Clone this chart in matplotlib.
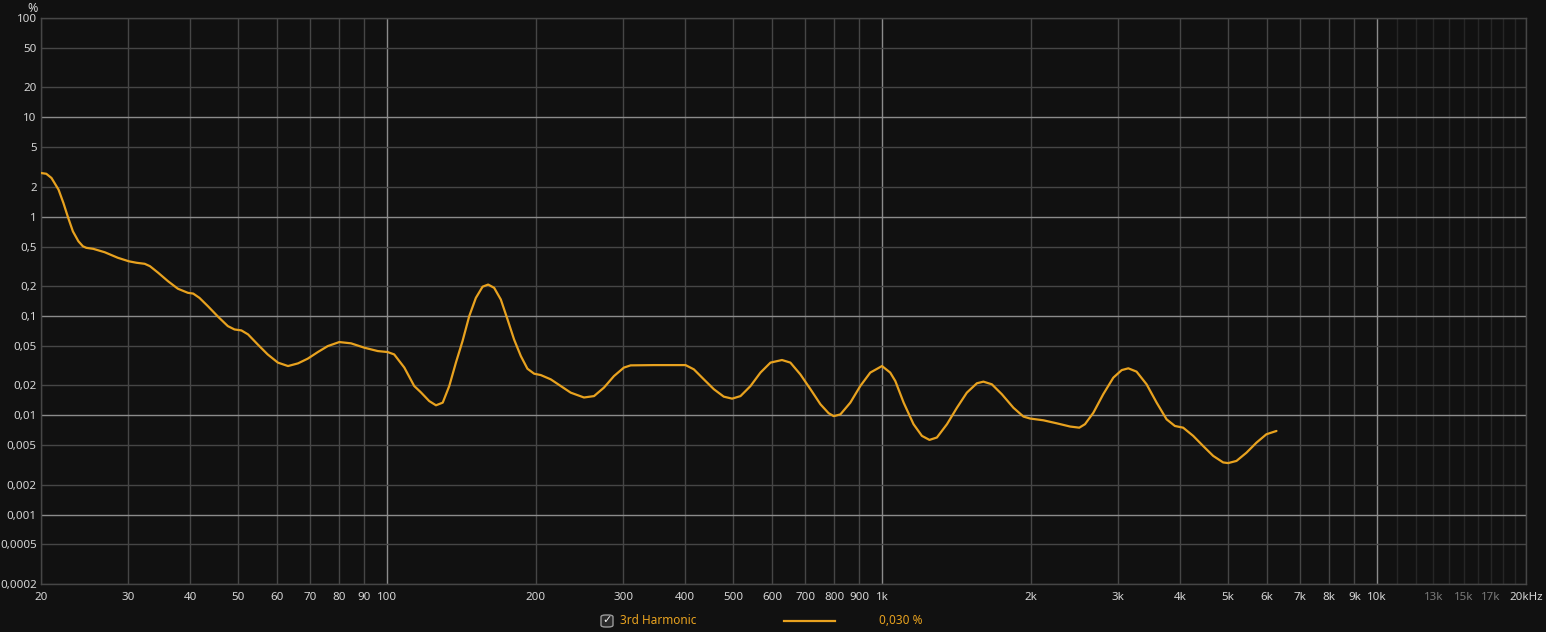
import matplotlib
matplotlib.use("Agg")
import matplotlib.pyplot as plt
from matplotlib.patches import FancyBboxPatch
from matplotlib.lines import Line2D

# 3rd harmonic distortion (Hz, %)
freq = [20, 20.5, 21.0, 21.7, 22.2, 22.7, 23.2, 23.8, 24.3, 24.7, 25.5, 26.9, 28.6,
        30.1, 31.2, 32.4, 33.2, 34.5, 36.1, 37.8, 39.6, 40.6, 41.8, 43.5, 45.6, 47.7,
        49.2, 50.8, 52.4, 54.8, 57.4, 60.2, 63.1, 66.1, 69.2, 72.5, 75.9, 80.1, 84.6,
        90.0, 95.8, 100.3, 103.4, 108.4, 113.5, 117.1, 121.7, 125.6, 129.6, 133.6,
        137.8, 142.1, 146.6, 151.2, 156.0, 160.1, 164.6, 169.8, 175.2, 180.6, 186.4,
        192.2, 198.3, 204.5, 214.2, 224.4, 235.0, 250, 262, 274.4, 287.4, 301, 310.6,
        346, 401, 416.8, 436.6, 457.4, 479, 498, 517.8, 542.5, 568.2, 595.3, 628, 653,
        684, 717, 751, 780, 799, 824, 863, 904, 947, 1000, 1039, 1064, 1106, 1158,
        1204, 1247, 1291, 1353, 1417, 1484, 1555, 1603, 1667, 1746, 1843, 1931, 1992,
        2118, 2254, 2399, 2504, 2571, 2673, 2799, 2933, 3050, 3145, 3268, 3424, 3588,
        3758, 3906, 4059, 4253, 4455, 4667, 4889, 5004, 5202, 5449, 5708, 5979, 6265]
thd3 = [2.75, 2.70, 2.45, 1.87, 1.37, 0.97, 0.71, 0.565, 0.503, 0.485, 0.474, 0.438,
        0.385, 0.355, 0.343, 0.335, 0.317, 0.272, 0.224, 0.188, 0.171, 0.168, 0.152,
        0.125, 0.098, 0.079, 0.0731, 0.0715, 0.0652, 0.0517, 0.041, 0.0339, 0.0313,
        0.0333, 0.0372, 0.0433, 0.0497, 0.0546, 0.053, 0.0479, 0.0443, 0.0433, 0.041,
        0.0302, 0.0197, 0.017, 0.0139, 0.0126, 0.0134, 0.0197, 0.0339, 0.0558, 0.0995,
        0.152, 0.197, 0.207, 0.192, 0.1465, 0.0922, 0.058, 0.0394, 0.0294, 0.0262,
        0.0254, 0.023, 0.0197, 0.0169, 0.0151, 0.0156, 0.019, 0.0248, 0.0302, 0.0318,
        0.032, 0.032, 0.029, 0.023, 0.0183, 0.0154, 0.0147, 0.0156, 0.0197, 0.0269,
        0.0339, 0.036, 0.0339, 0.0258, 0.0183, 0.0129, 0.0105, 0.0098, 0.0102, 0.0134,
        0.0197, 0.0269, 0.0313, 0.0269, 0.0221, 0.0134, 0.00813, 0.0062, 0.00565,
        0.00597, 0.00813, 0.0119, 0.0169, 0.021, 0.0218, 0.0205, 0.0163, 0.0119,
        0.0097, 0.00927, 0.0089, 0.0083, 0.0077, 0.0075, 0.00813, 0.0106, 0.0163,
        0.0239, 0.0285, 0.0297, 0.0275, 0.0205, 0.0134, 0.0091, 0.0078, 0.0075,
        0.0062, 0.0049, 0.0039, 0.00335, 0.0033, 0.00347, 0.0042, 0.0053, 0.00644,
        0.00695]

x_ticks = [20, 30, 40, 50, 60, 70, 80, 90, 100, 200, 300, 400, 500, 600, 700, 800,
           900, 1000, 2000, 3000, 4000, 5000, 6000, 7000, 8000, 9000, 10000, 20000]
x_labels = ["20", "30", "40", "50", "60", "70", "80", "90", "100", "200", "300", "400",
            "500", "600", "700", "800", "900", "1k", "2k", "3k", "4k", "5k", "6k", "7k",
            "8k", "9k", "10k", "20kHz"]
x_dim_ticks = [13000, 15000, 17000]
x_dim_labels = ["13k", "15k", "17k"]
x_faint_grid = [11000, 12000, 13000, 14000, 15000, 16000, 17000, 18000, 19000]

y_ticks = [100, 50, 20, 10, 5, 2, 1, 0.5, 0.2, 0.1, 0.05, 0.02, 0.01, 0.005, 0.002,
           0.001, 0.0005, 0.0002]
y_labels = ["100", "50", "20", "10", "5", "2", "1", "0,5", "0,2", "0,1", "0,05", "0,02",
            "0,01", "0,005", "0,002", "0,001", "0,0005", "0,0002"]

legend_name = "3rd Harmonic"
legend_value = "0,030 %"

bg = "#111111"
grid_dark = "#464646"
grid_bright = "#8c8c8c"
grid_faint = "#262626"
text_col = "#d6d6d6"
orange = "#e8a21f"

plt.rcParams["font.family"] = ["Noto Sans", "DejaVu Sans"]

W, H = 1546, 632
fig = plt.figure(figsize=(W / 100, H / 100), dpi=100, facecolor=bg)
ax = fig.add_axes([41 / W, 48 / H, 1485 / W, 566 / H], facecolor=bg)
ax.set_xscale("log")
ax.set_yscale("log")
ax.set_xlim(20, 20000)
ax.set_ylim(0.0002, 100)

# grid
for f in x_ticks:
    ax.axvline(f, color=grid_bright if f in (100, 1000, 10000) else grid_dark,
               lw=1, zorder=1)
for f in x_faint_grid:
    ax.axvline(f, color=grid_faint, lw=1, zorder=0.9)
for v in y_ticks:
    ax.axhline(v, color=grid_bright if v in (10, 1, 0.1, 0.01, 0.001) else grid_dark,
               lw=1, zorder=1)

ax.plot(freq, thd3, color=orange, lw=1.6, zorder=3,
        solid_capstyle="round", solid_joinstyle="round")

ax.set_xticks(x_ticks + x_dim_ticks)
ax.set_xticklabels(x_labels + x_dim_labels)
ax.xaxis.set_minor_locator(plt.NullLocator())
ax.set_yticks(y_ticks)
ax.set_yticklabels(y_labels)
ax.yaxis.set_minor_locator(plt.NullLocator())
ax.tick_params(axis="x", length=0, pad=6, labelsize=8.3, labelcolor=text_col)
ax.tick_params(axis="y", length=0, pad=3, labelsize=8.3, labelcolor=text_col)
for lab in ax.get_xticklabels()[len(x_ticks):]:
    lab.set_color("#7a7a7a")

for s in ax.spines.values():
    s.set_color(grid_dark)
    s.set_linewidth(1)

fig.text(33 / W, 1 - 8 / H, "%", color=text_col, fontsize=9, ha="center", va="center")

# legend row
yl = 1 - 620.5 / H
fig.patches.append(FancyBboxPatch((601 / W, 1 - 627 / H), 12 / W, 12 / H,
                                  boxstyle="round,pad=0,rounding_size=0.003",
                                  transform=fig.transFigure, facecolor="#2a2a2a",
                                  edgecolor="#9a9a9a", lw=1))
fig.text(607 / W, yl, "\u2713", color="#f0f0f0", fontsize=8, ha="center", va="center",
         family=["DejaVu Sans"])
fig.text(620.5 / W, yl, legend_name, color=orange, fontsize=8.5, ha="left", va="center")
fig.lines.append(Line2D([784 / W, 835 / W], [yl, yl], transform=fig.transFigure,
                        color=orange, lw=1.6))
fig.text(879 / W, yl, legend_value, color=orange, fontsize=8.5, ha="left", va="center")

fig.savefig("out.png", dpi=100, facecolor=bg)
